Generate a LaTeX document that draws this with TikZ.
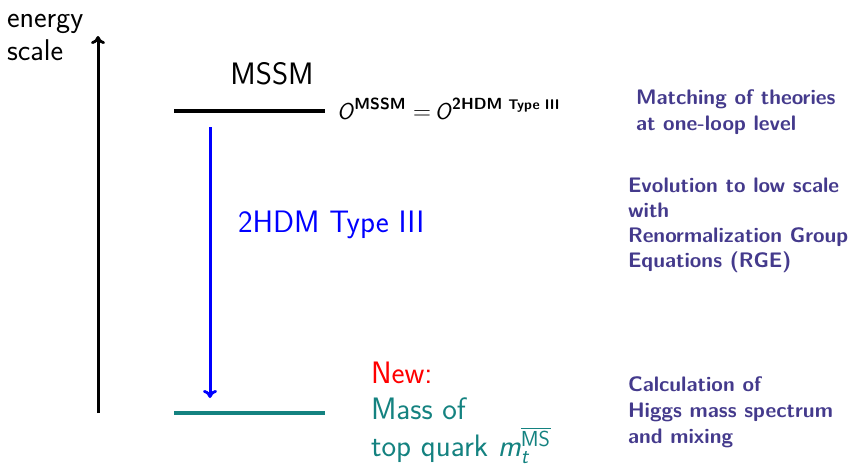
\documentclass[tikz,border=0pt]{standalone}
\usepackage{amsmath}
\usepackage{fontspec}
\usetikzlibrary{arrows.meta}
\definecolor{expl}{RGB}{68,58,140}
\definecolor{tealline}{RGB}{20,130,128}
\begin{document}
\begin{tikzpicture}[x=1pt,y=-1pt,
  every node/.style={inner sep=0pt,outer sep=0pt,font=\sffamily},
  big/.style={font=\fontsize{31}{36.5}\selectfont\sffamily},
  expltext/.style={font=\fontsize{21}{26}\selectfont\sffamily\bfseries,text=expl,align=left,anchor=base west},
  level/.style={line width=3.2pt},
  tip/.style={-{To[length=8pt,width=14pt,line width=2.8pt]}}
  ]
\useasboundingbox (0,0) rectangle (852,464);
% energy axis
\coordinate (ebot) at (98,413);
\coordinate (etop) at (98,36);
\draw[line width=3pt,tip] (ebot) -- (etop);
\node[anchor=base west,align=left,font=\fontsize{30}{33}\selectfont\sffamily] (elabel) at (7,60) {energy\\scale};
% levels
\coordinate (mssmL) at (174,111);
\coordinate (mssmR) at (325,111);
\draw[level] (mssmL) -- (mssmR);
\coordinate (lowL) at (174,413);
\coordinate (lowR) at (325,413);
\draw[level,tealline] (lowL) -- (lowR);
\node[big,anchor=base] (mssm) at (272,84) {MSSM};
\node[anchor=base west,font=\fontsize{23}{26}\selectfont\sffamily] (match) at (337,119)
  {\textit{O}$^{\text{\bfseries MSSM}}=$\,\textit{O}$^{\text{\bfseries 2HDM \fontsize{14}{15}\selectfont Type III}}$};
% evolution arrow
\coordinate (bstart) at (210,127);
\coordinate (bend) at (210,398);
\draw[blue,line width=3pt,tip] (bstart) -- (bend);
\node[big,text=blue,anchor=base west] (thdm) at (238,232) {2HDM Type III};
% low scale text
\node[big,anchor=base west,align=left,text=tealline] (newtxt) at (371,456)
  {\textcolor{red}{New:}\\Mass of\\top quark \textit{m}$_{\textsf{\textit{t}}}^{\overline{\textsf{MS}}}$};
% explanations
\node[expltext] (ex1) at (636,130) {Matching of theories\\at one-loop level};
\node[expltext,font=\fontsize{21}{25}\selectfont\sffamily\bfseries] (ex2) at (628,267) {Evolution to low scale\\with\\Renormalization Group\\Equations (RGE)};
\node[expltext] (ex3) at (628,443) {Calculation of\\Higgs mass spectrum\\and mixing};
\end{tikzpicture}
\end{document}
